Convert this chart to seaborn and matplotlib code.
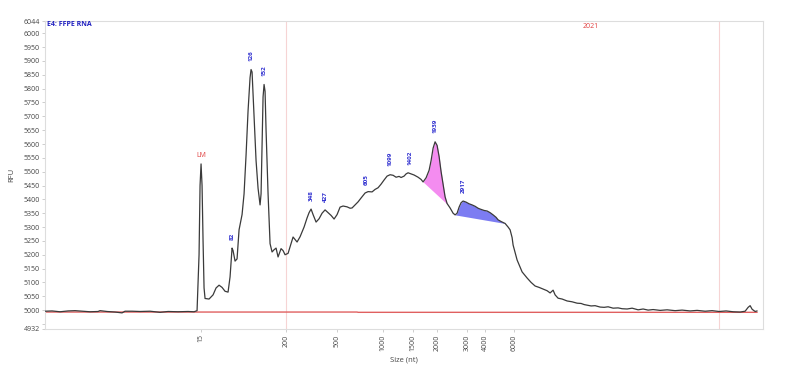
import numpy as np
import pandas as pd
import matplotlib
matplotlib.use("Agg")
import matplotlib.pyplot as plt
import seaborn as sns

# migration position (arbitrary time units) and fluorescence (RFU) of the trace
trace_time = [45, 52, 60, 68, 75, 82, 90, 98, 100, 107, 115, 122, 125, 132, 140, 150, 160, 168, 178, 188,
              194, 197, 199, 200, 201, 202, 203, 204, 205, 209, 213, 216, 219, 222, 225, 228, 230, 232, 233, 235,
              237, 239, 242, 244, 246, 248, 250, 251, 252, 254, 256, 258, 260, 261, 262, 263, 264, 265, 266, 268,
              270, 272, 274, 276, 278, 281, 283, 285, 288, 291, 293, 295, 297, 300, 304, 307, 309, 311, 313, 316,
              319, 322, 325, 328, 331, 334, 337, 340, 343, 347, 350, 352, 355, 358, 361, 365, 368, 372, 375, 378,
              381, 384, 387, 390, 393, 396, 399, 401, 404, 406, 408, 411, 414, 418, 421, 423, 426, 429, 431, 433,
              435, 437, 439, 441, 443, 445, 447, 450, 453, 455, 457, 459, 461, 463, 466, 469, 472, 475, 478, 480,
              484, 487, 490, 493, 496, 498, 501, 505, 508, 510, 512, 513, 515, 517, 520, 522, 525, 527, 531, 535,
              539, 543, 547, 550, 553, 555, 558, 562, 567, 572, 577, 581, 584, 587, 591, 595, 600, 604, 608, 613,
              618, 622, 627, 632, 638, 643, 648, 653, 660, 667, 675, 682, 690, 697, 705, 712, 719, 726, 733, 740,
              745, 748, 750, 752, 755, 757]
trace_rfu = [4996, 4997, 4994, 4997, 4998, 4996, 4994, 4995, 4998, 4995, 4993, 4990, 4996, 4996, 4995, 4996, 4992, 4995, 4994, 4995,
             4994, 4998, 5200, 5450, 5528, 5450, 5250, 5080, 5042, 5040, 5055, 5080, 5090, 5082, 5068, 5065, 5120, 5224, 5215, 5177,
             5185, 5290, 5345, 5420, 5560, 5720, 5840, 5869, 5860, 5700, 5540, 5440, 5380, 5420, 5600, 5770, 5815, 5790, 5650, 5420,
             5240, 5210, 5218, 5224, 5192, 5222, 5215, 5200, 5205, 5240, 5264, 5255, 5246, 5265, 5300, 5333, 5352, 5365, 5345, 5318,
             5330, 5350, 5362, 5352, 5342, 5329, 5345, 5372, 5376, 5373, 5368, 5369, 5380, 5391, 5405, 5423, 5428, 5427, 5436, 5442,
             5455, 5470, 5484, 5489, 5487, 5480, 5483, 5479, 5484, 5492, 5496, 5492, 5488, 5480, 5472, 5463, 5478, 5505, 5540, 5585,
             5608, 5595, 5555, 5500, 5455, 5409, 5385, 5369, 5350, 5344, 5350, 5372, 5388, 5394, 5390, 5384, 5380, 5375, 5368, 5365,
             5360, 5358, 5352, 5344, 5335, 5326, 5320, 5313, 5300, 5290, 5262, 5235, 5208, 5181, 5155, 5138, 5125, 5116, 5100, 5087,
             5082, 5076, 5070, 5062, 5072, 5055, 5043, 5040, 5033, 5030, 5025, 5024, 5020, 5018, 5015, 5016, 5011, 5010, 5012, 5007,
             5008, 5005, 5004, 5007, 5001, 5004, 5000, 5002, 4999, 5001, 4998, 5000, 4997, 4999, 4996, 4998, 4995, 4997, 4994, 4993,
             4996, 5010, 5016, 5003, 4995, 4997]

# analysis baseline
base_time = [45, 357, 358, 757]
base_rfu = [4993, 4993, 4992, 4992]

# ladder: size (nt) vs migration position
ladder_time = [200.5, 286, 337, 383, 413, 437, 467, 485, 514]
ladder_size = ["15", "200", "500", "1000", "1500", "2000", "3000", "4000", "6000"]

# called peaks
peak_time = [232, 251, 264, 311, 325, 366, 390, 410, 435, 463]
peak_rfu = [5224, 5869, 5815, 5365, 5362, 5423, 5489, 5494, 5608, 5394]
peak_size = ["82", "126", "152", "348", "427", "605", "1099", "1402", "1939", "2917"]

# shaded regions: start/end positions
region_start = [423, 455]
region_end = [448, 505]
region_color = ["#f48cf0", "#7c7cf2"]

marker_time = [286, 719]

sns.set_style("white")
plt.rcParams["font.family"] = ["Open Sans", "DejaVu Sans"]

fig = plt.figure(figsize=(7.9, 3.7), dpi=100)
ax = fig.add_axes([0.057, 0.111, 0.909, 0.832])

df = pd.DataFrame({"time": trace_time, "rfu": trace_rfu})
bdf = pd.DataFrame({"time": base_time, "rfu": base_rfu})

for m in marker_time:
    ax.axvline(m, color="#f6d4d4", lw=0.8, zorder=0)

t = np.array(trace_time, dtype=float)
r = np.array(trace_rfu, dtype=float)
for s, e, c in zip(region_start, region_end, region_color):
    mask = (t >= s) & (t <= e)
    y0 = np.interp(s, t, r)
    y1 = np.interp(e, t, r)
    line = y0 + (t[mask] - s) * (y1 - y0) / (e - s)
    ax.fill_between(t[mask], line, r[mask], color=c, lw=0, zorder=1)

sns.lineplot(data=bdf, x="time", y="rfu", ax=ax, color="#e06060", lw=1.0, zorder=2)
sns.lineplot(data=df, x="time", y="rfu", ax=ax, color="#3a3a3a", lw=0.9, zorder=3)

for pt, pr, ps in zip(peak_time, peak_rfu, peak_size):
    ax.text(pt, pr + 30, ps, rotation=90, ha="center", va="bottom",
            fontsize=4.5, color="#3030d0", fontweight="bold")

ax.text(201, 5545, "LM", ha="center", va="bottom", fontsize=5, color="#e04040")
ax.text(591, 6025, "2021", ha="center", va="center", fontsize=5, color="#e04040")
ax.text(47, 6030, "E4: FFPE RNA", ha="left", va="center", fontsize=5,
        color="#2020c0", fontweight="bold")

ax.set_xlim(45, 763)
ax.set_ylim(4932, 6044)
ax.set_xticks(ladder_time)
ax.set_xticklabels(ladder_size, rotation=90)
yt = [4932, 4950] + list(range(5000, 6001, 50)) + [6044]
ax.set_yticks(yt)
ax.set_yticklabels([str(v) if v != 4950 else "" for v in yt])
ax.tick_params(axis="both", labelsize=5, colors="#bbbbbb", labelcolor="#444444",
               length=2, width=0.5, pad=2, left=True, bottom=True)
ax.set_xlabel("Size (nt)", fontsize=5.5, color="#444444", labelpad=4)
ax.set_ylabel("RFU", fontsize=5.5, color="#444444", labelpad=6)
for sp in ax.spines.values():
    sp.set_color("#dddddd")
    sp.set_linewidth(0.8)

fig.savefig("out.png", dpi=100)
